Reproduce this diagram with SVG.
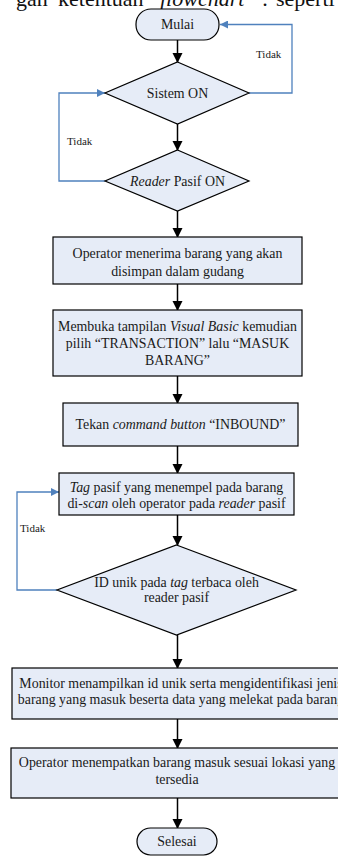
<svg xmlns="http://www.w3.org/2000/svg" width="338" height="856" viewBox="0 0 338 856">
<style>
  .shape { fill: #e6ecf7; stroke: #000; stroke-width: 1.2; }
  .t { font-family: "Liberation Serif", "Times New Roman", serif; font-size: 13.9px; fill: #1a1a1a; text-anchor: middle; }
  .lbl { font-family: "Liberation Serif", "Times New Roman", serif; font-size: 11px; fill: #1a1a1a; }
  .top { font-family: "Liberation Serif", "Times New Roman", serif; font-size: 22px; fill: #111; }
  .c { fill: none; stroke: #000; stroke-width: 1.5; }
  .b { fill: none; stroke: #4f81bd; stroke-width: 1.3; }
  .i { font-style: italic; }
</style>
<defs>
  <marker id="ah" markerWidth="10" markerHeight="12" refX="9" refY="5" orient="auto" markerUnits="userSpaceOnUse" viewBox="0 0 10 10">
    <path d="M0,0 L10,5 L0,10 Z" fill="#000"/>
  </marker>
  <marker id="bh" markerWidth="8" markerHeight="8" refX="8" refY="4" orient="auto" markerUnits="userSpaceOnUse" viewBox="0 0 8 8">
    <path d="M0,0 L8,4 L0,8 Z" fill="#4f81bd"/>
  </marker>
</defs>
<text class="top" y="6"><tspan x="16">gan</tspan><tspan x="58">ketentuan</tspan><tspan x="160" class="i">flowchart</tspan><tspan x="262">:</tspan><tspan x="276">seperti</tspan></text>

<g id="connectors">
  <line class="c" x1="177.5" y1="40" x2="177.5" y2="62" marker-end="url(#ah)"/>
  <line class="c" x1="177.5" y1="124" x2="177.5" y2="150" marker-end="url(#ah)"/>
  <line class="c" x1="177.5" y1="211" x2="177.5" y2="237" marker-end="url(#ah)"/>
  <line class="c" x1="177.5" y1="284" x2="177.5" y2="310" marker-end="url(#ah)"/>
  <line class="c" x1="177.5" y1="376" x2="177.5" y2="403" marker-end="url(#ah)"/>
  <line class="c" x1="177.5" y1="446" x2="177.5" y2="473" marker-end="url(#ah)"/>
  <line class="c" x1="177.5" y1="515" x2="177.5" y2="545" marker-end="url(#ah)"/>
  <line class="c" x1="177.5" y1="635" x2="177.5" y2="668" marker-end="url(#ah)"/>
  <line class="c" x1="177.5" y1="719" x2="177.5" y2="748" marker-end="url(#ah)"/>
  <line class="c" x1="177.5" y1="798" x2="177.5" y2="828" marker-end="url(#ah)"/>
  <polyline class="b" points="249,93 292,93 292,24.5 220,24.5" marker-end="url(#bh)"/>
  <polyline class="b" points="105,181 59,181 59,93 105,93" marker-end="url(#bh)"/>
  <polyline class="b" points="57,590 17,590 17,492 59,492" marker-end="url(#bh)"/>
  <text class="lbl" x="256" y="58">Tidak</text>
  <text class="lbl" x="67" y="145">Tidak</text>
  <text class="lbl" x="20" y="532">Tidak</text>
</g>

<g id="mulai">
  <rect class="shape" x="136" y="9" width="83" height="31" rx="15" ry="15"/>
  <text class="t" x="177.5" y="29">Mulai</text>
</g>
<g id="sistem-on">
  <polygon class="shape" points="177.5,62 249,93 177.5,124 105,93"/>
  <text class="t" x="177.5" y="97.5">Sistem ON</text>
</g>
<g id="reader-on">
  <polygon class="shape" points="177.5,150 249,181 177.5,211 105,181"/>
  <text class="t" x="177.5" y="185.5"><tspan class="i">Reader</tspan> Pasif ON</text>
</g>
<g id="terima">
  <rect class="shape" x="53" y="237" width="249" height="47"/>
  <text class="t" x="177.5" y="257.5">Operator menerima barang yang akan</text>
  <text class="t" x="177.5" y="276">disimpan dalam gudang</text>
</g>
<g id="buka-vb">
  <rect class="shape" x="53" y="310" width="249" height="66"/>
  <text class="t" x="177.5" y="331">Membuka tampilan <tspan class="i">Visual Basic</tspan> kemudian</text>
  <text class="t" x="177.5" y="348">pilih “TRANSACTION” lalu “MASUK</text>
  <text class="t" x="177.5" y="364.5">BARANG”</text>
</g>
<g id="inbound">
  <rect class="shape" x="63" y="403" width="235" height="43"/>
  <text class="t" x="180.5" y="429"><tspan>Tekan </tspan><tspan class="i">command button</tspan> “INBOUND”</text>
</g>
<g id="scan">
  <rect class="shape" x="59" y="473" width="235" height="42"/>
  <text class="t" x="176.5" y="492"><tspan class="i">Tag</tspan> pasif yang menempel pada barang</text>
  <text class="t" x="176.5" y="507.5">di-<tspan class="i">scan</tspan> oleh operator pada <tspan class="i">reader</tspan> pasif</text>
</g>
<g id="id-terbaca">
  <polygon class="shape" points="176.5,545 296,590 176.5,635 57,590"/>
  <text class="t" x="176.5" y="587">ID unik pada <tspan class="i">tag</tspan> terbaca oleh</text>
  <text class="t" x="176.5" y="601.5">reader pasif</text>
</g>
<g id="monitor">
  <rect class="shape" x="12" y="668" width="340" height="51"/>
  <text class="t" x="181" y="688">Monitor menampilkan id unik serta mengidentifikasi jenis</text>
  <text class="t" x="181" y="704">barang yang masuk beserta data yang melekat pada barang</text>
</g>
<g id="tempatkan">
  <rect class="shape" x="11" y="748" width="340" height="50"/>
  <text class="t" x="177" y="767">Operator menempatkan barang masuk sesuai lokasi yang</text>
  <text class="t" x="177" y="784">tersedia</text>
</g>
<g id="selesai">
  <rect class="shape" x="137" y="828" width="80" height="27" rx="13.5" ry="13.5"/>
  <text class="t" x="177" y="845.5">Selesai</text>
</g>
</svg>
